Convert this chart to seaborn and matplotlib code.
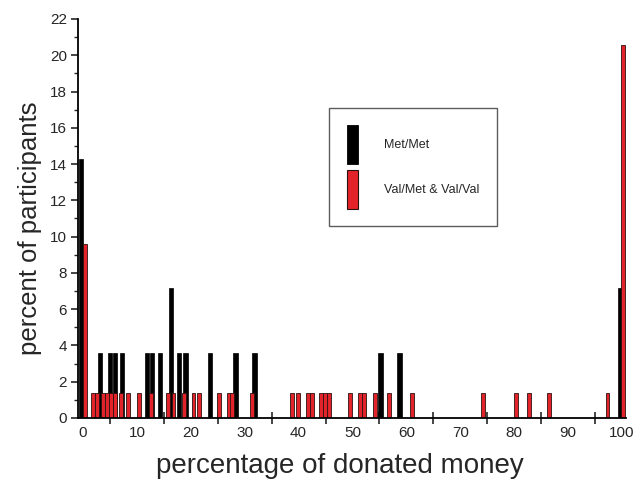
import numpy as np
import matplotlib
matplotlib.use("Agg")
import matplotlib.pyplot as plt
from matplotlib.patches import Patch
from matplotlib.ticker import MultipleLocator, FixedLocator
import seaborn as sns

# ---- data ----
met_label = "Met/Met"
val_label = "Val/Met & Val/Val"

black_pos = [-0.35, 3.2, 5.0, 5.9, 7.2, 11.9, 12.8, 14.3, 16.3, 17.8, 19.0,
             23.6, 28.3, 31.8, 55.2, 58.7, 99.7]
black_pct = [14.29, 3.57, 3.57, 3.57, 3.57, 3.57, 3.57, 3.57, 7.14, 3.57, 3.57,
             3.57, 3.57, 3.57, 3.57, 3.57, 7.14]

red_pos = [0.3, 1.9, 2.6, 3.7, 4.4, 5.2, 5.9, 7.0, 8.4, 10.4, 12.7, 15.8, 16.8,
           18.7, 20.5, 21.5, 25.2, 27.1, 27.7, 31.3, 38.7, 39.9, 41.8, 42.5,
           44.2, 44.9, 45.6, 49.6, 51.4, 52.2, 54.2, 56.8, 61.0, 74.2, 80.4,
           82.7, 86.4, 97.3, 100.1]
red_pct = [9.59] + [1.37] * 37 + [20.55]

x_ticks = [0, 10, 20, 30, 40, 50, 60, 70, 80, 90, 100]
y_ticks = [0, 2, 4, 6, 8, 10, 12, 14, 16, 18, 20, 22]

# ---- style ----
sns.set_style("ticks")
plt.rcParams['font.family'] = ['Liberation Sans', 'DejaVu Sans']

RED = '#e3232a'

fig = plt.figure(figsize=(6.43, 4.82), dpi=100)
ax = fig.add_axes([0.1215, 0.1328, 0.8518, 0.8278])

bw = 0.8
rw = 0.72
nb = np.nanmin(np.diff(np.unique(black_pos)))
nr = np.nanmin(np.diff(np.unique(red_pos)))

sns.barplot(x=black_pos, y=black_pct, native_scale=True, width=bw / nb,
            color='black', saturation=1, edgecolor='black', linewidth=0.5,
            errorbar=None, ax=ax)
sns.barplot(x=red_pos, y=red_pct, native_scale=True, width=rw / nr,
            color=RED, saturation=1, edgecolor='#2a1212', linewidth=0.6,
            errorbar=None, ax=ax)

ax.set_xlim(-0.9, 100.7)
ax.set_ylim(0, 22)

ax.xaxis.set_major_locator(FixedLocator(x_ticks))
ax.set_xticklabels([str(t) for t in x_ticks])
ax.xaxis.set_minor_locator(FixedLocator([5, 15, 25, 35, 45, 55, 65, 75, 85, 95]))
ax.tick_params(axis='x', which='major', length=0, pad=6, labelsize=11)
ax.tick_params(axis='x', which='minor', direction='inout', length=9, width=1.2)

ax.yaxis.set_major_locator(FixedLocator(y_ticks))
ax.set_yticklabels([str(t) for t in y_ticks])
ax.yaxis.set_minor_locator(MultipleLocator(1))
ax.tick_params(axis='y', which='major', direction='out', length=5, width=1.2, labelsize=11, pad=3)
ax.tick_params(axis='y', which='minor', direction='out', length=3, width=1.0)

sns.despine(ax=ax, top=True, right=True)
for s in ['left', 'bottom']:
    ax.spines[s].set_linewidth(1.3)
    ax.spines[s].set_color('black')

ax.set_xlabel("percentage of donated money", fontsize=20)
ax.set_ylabel("percent of participants", fontsize=18.5)
ax.xaxis.set_label_coords(0.478, -0.088)
ax.yaxis.set_label_coords(-0.066, 0.476)

handles = [Patch(facecolor='black', edgecolor='black', linewidth=0.6),
           Patch(facecolor=RED, edgecolor='#2a1212', linewidth=0.8)]
leg = ax.legend(handles, [met_label, val_label], loc='upper left',
                bbox_to_anchor=((329 - 78.1) / 547.7, 1 - (108 - 19) / 399.0),
                fontsize=9, handlelength=0.9, handleheight=4.4,
                handletextpad=2.1, labelspacing=0.45, borderpad=1.4,
                borderaxespad=0, fancybox=False, frameon=True)
leg.get_frame().set_edgecolor('#333333')
leg.get_frame().set_linewidth(1.0)

fig.savefig("out.png", dpi=100)
